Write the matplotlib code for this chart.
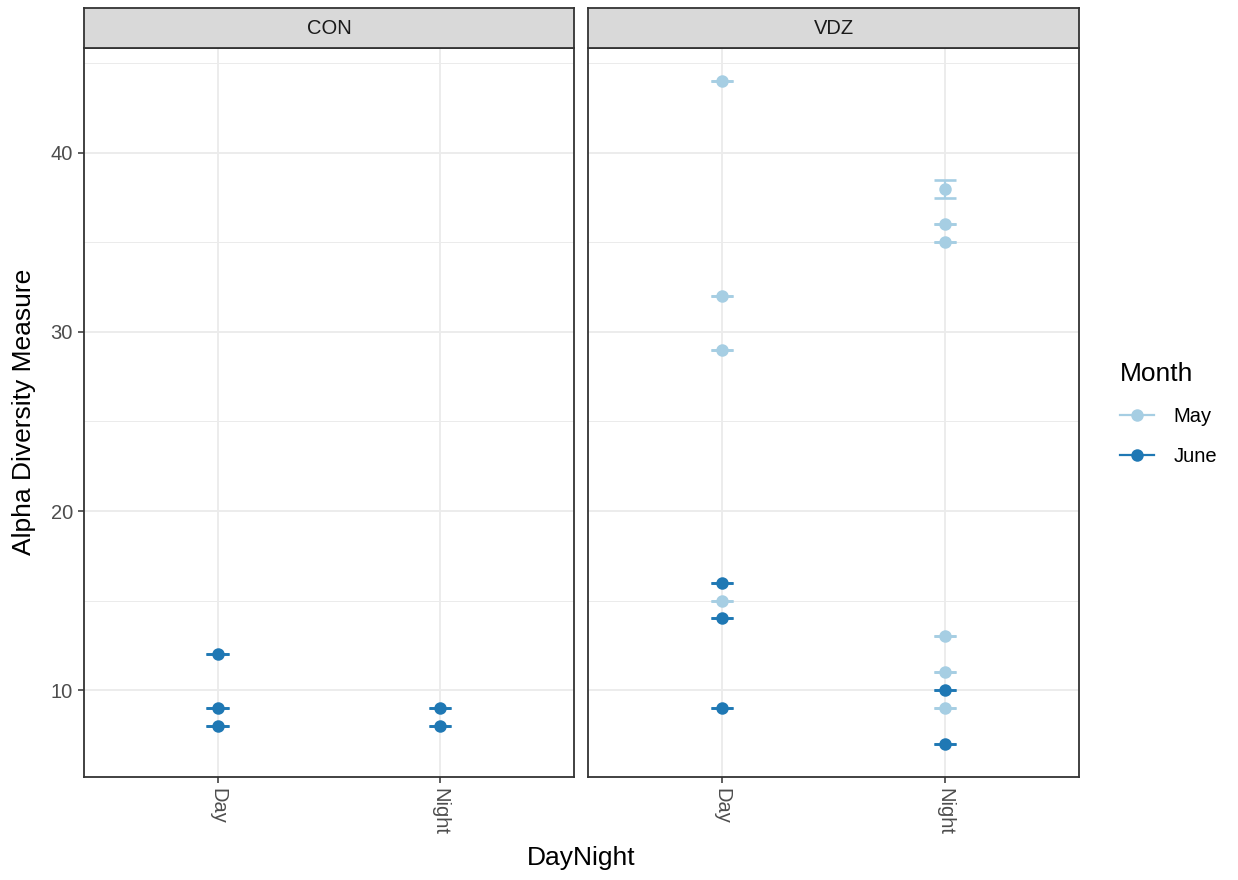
import numpy as np
import matplotlib
matplotlib.use("Agg")
import matplotlib.pyplot as plt
from matplotlib.lines import Line2D

plt.rcParams['font.family'] = ['Liberation Sans', 'DejaVu Sans']

# alpha diversity per facet / time of day / month
facets = ['CON', 'VDZ']
daynight = ['Day', 'Night']
months = ['May', 'June']
month_colors = {'May': '#A6CEE3', 'June': '#1F78B4'}

con_day_june = [12, 9, 8]
con_night_june = [9, 8]
vdz_day_may = [44, 32, 29, 15]
vdz_day_june = [16, 14, 9]
vdz_night_may = [38, 36, 35, 13, 11, 9]
vdz_night_may_err = [0.5, 0, 0, 0, 0, 0]
vdz_night_june = [10, 7]

series = {
    'CON': [('Day', 'June', con_day_june, None),
            ('Night', 'June', con_night_june, None)],
    'VDZ': [('Day', 'May', vdz_day_may, None),
            ('Day', 'June', vdz_day_june, None),
            ('Night', 'May', vdz_night_may, vdz_night_may_err),
            ('Night', 'June', vdz_night_june, None)],
}
bar_width = 0.1

W, H = 1238, 880
fig = plt.figure(figsize=(W / 100, H / 100), dpi=100)

def px_axes(x0, y0, x1, y1):
    return fig.add_axes([x0 / W, 1 - y1 / H, (x1 - x0) / W, (y1 - y0) / H])

panels = {'CON': (84, 574), 'VDZ': (588, 1079)}
top, bottom, strip_top = 48, 777, 8
ylim = (5.15, 45.85)

for i, name in enumerate(facets):
    x0, x1 = panels[name]
    ax = px_axes(x0, top, x1, bottom)
    ax.set_xlim(0.4, 2.6)
    ax.set_ylim(*ylim)
    for y in [15, 25, 35, 45]:
        ax.axhline(y, color='#EBEBEB', lw=0.7, zorder=0)
    for y in [10, 20, 30, 40]:
        ax.axhline(y, color='#EBEBEB', lw=1.3, zorder=0)
    for x in [1, 2]:
        ax.axvline(x, color='#EBEBEB', lw=1.3, zorder=0)

    for dn, m, vals, err in series[name]:
        c = month_colors[m]
        vals = np.array(vals, dtype=float)
        xs = np.full(len(vals), daynight.index(dn) + 1.0)
        yerr = np.zeros(len(vals)) if err is None else np.array(err, dtype=float)
        # error bars: vertical segment plus caps of fixed data width
        ax.vlines(xs, vals - yerr, vals + yerr, color=c, lw=1.6, zorder=2)
        for yy in (vals - yerr, vals + yerr):
            ax.hlines(yy, xs - bar_width / 2, xs + bar_width / 2,
                      color=c, lw=1.9, zorder=2)
        ax.plot(xs, vals, 'o', color=c, ms=9, mew=0, zorder=3)

    ax.set_xticks([1, 2])
    ax.set_xticklabels(daynight, rotation=270, fontsize=14.5, color='#4D4D4D')
    ax.set_yticks([10, 20, 30, 40])
    if i == 0:
        ax.set_yticklabels(['10', '20', '30', '40'], fontsize=14.5, color='#4D4D4D')
    else:
        ax.set_yticklabels([])
    ax.tick_params(length=4, width=1.1, color='#333333', pad=4)
    if i > 0:
        ax.tick_params(axis='y', length=0)
    for s in ax.spines.values():
        s.set_color('#333333')
        s.set_linewidth(1.3)

    sax = px_axes(x0, strip_top, x1, top)
    sax.set_xticks([])
    sax.set_yticks([])
    sax.set_facecolor('#D9D9D9')
    for s in sax.spines.values():
        s.set_color('#333333')
        s.set_linewidth(1.3)
    sax.text(0.5, 0.5, name, ha='center', va='center', fontsize=14.5,
             color='#1A1A1A', transform=sax.transAxes)

fig.text(24 / W, 1 - 412 / H, 'Alpha Diversity Measure', rotation=90,
         ha='center', va='center', fontsize=19)
fig.text(581 / W, 1 - 858 / H, 'DayNight', ha='center', va='center', fontsize=19)

handles = [Line2D([], [], color=month_colors[m], marker='o', ms=9, mew=0, lw=1.6)
           for m in months]
leg = fig.legend(handles, months, title='Month', loc='upper left',
                 bbox_to_anchor=(1102 / W, 1 - 344 / H), frameon=False,
                 fontsize=14.5, title_fontsize=19, handlelength=1.7,
                 labelspacing=1.05, handletextpad=0.95)
leg._legend_box.align = 'left'

fig.savefig('out.png', dpi=100)
